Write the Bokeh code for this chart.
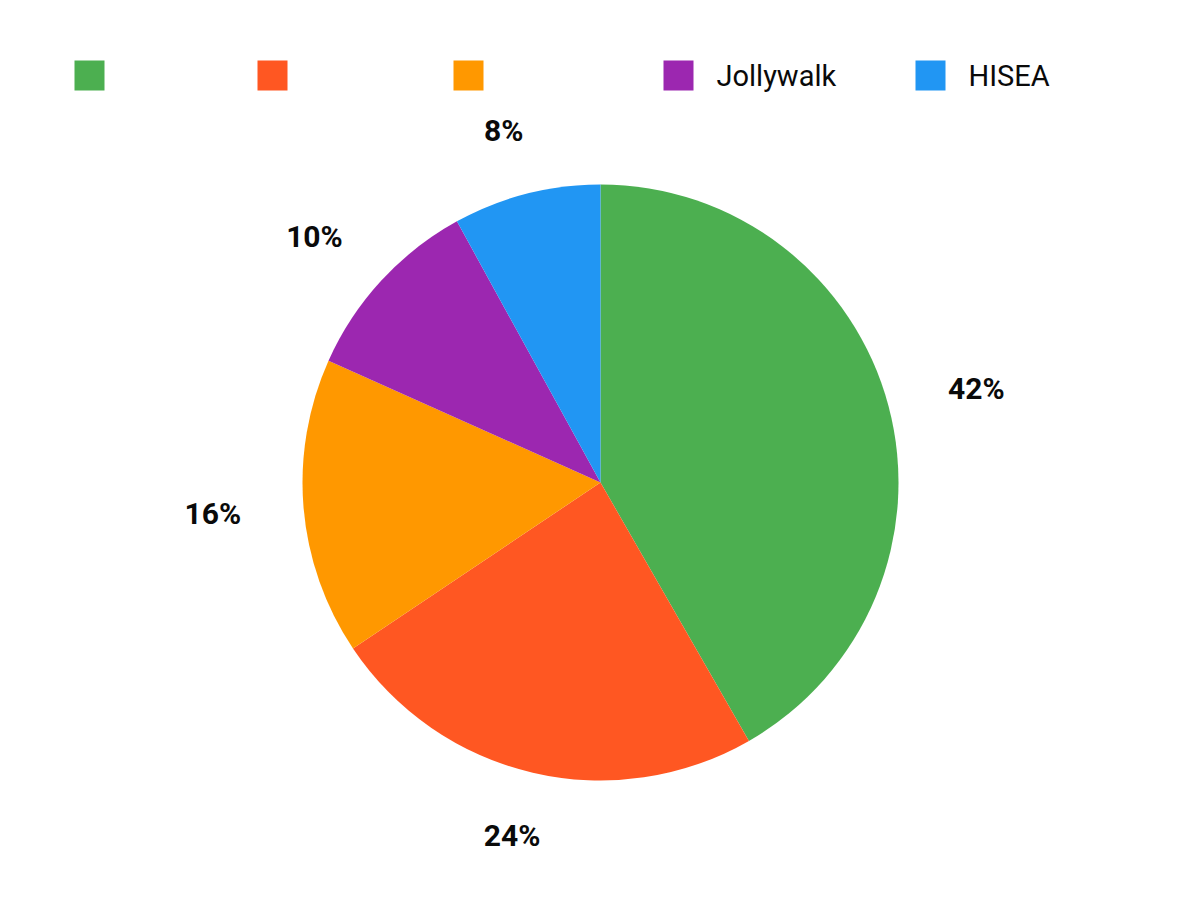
from bokeh.plotting import figure
from bokeh.models import Range1d, ColumnDataSource
from bokeh.embed import file_html
from bokeh.resources import INLINE
from bokeh.core.properties import value
import math

labels = ["", "", "", "Jollywalk", "HISEA"]
shares = [41.7, 23.9, 16.1, 10.3, 8.0]
colors = ["#4CAF50", "#FF5722", "#FF9800", "#9C27B0", "#2196F3"]
pct_labels = ["42%", "24%", "16%", "10%", "8%"]

W, H = 1184, 884
p = figure(width=W, height=H, output_backend="svg", toolbar_location=None,
           x_range=Range1d(0, W), y_range=Range1d(900 - H, 900),
           min_border=0, outline_line_color=None)
p.axis.visible = False
p.grid.visible = False
p.background_fill_color = "white"
p.border_fill_color = "white"

cx, cy, R = 600, 418, 298
total = sum(shares)
starts, ends, lx, ly = [], [], [], []
cum = 0.0
for s in shares:
    f0 = cum / total
    f1 = (cum + s) / total
    cum += s
    starts.append(math.pi / 2 - 2 * math.pi * f1)
    ends.append(math.pi / 2 - 2 * math.pi * f0)
    mid = 2 * math.pi * (f0 + f1) / 2
    r0 = 360
    lx.append(cx + r0 * math.sin(mid) + 29 * math.sin(mid))
    ly.append(cy + r0 * math.cos(mid) + 3 * math.cos(mid))

src = ColumnDataSource(dict(start=starts, end=ends, color=colors))
p.wedge(x=cx, y=cy, radius=R, start_angle="start", end_angle="end",
        fill_color="color", line_color=None, direction="anticlock", source=src)

p.text(x=lx, y=ly, text=pct_labels, text_align="center", text_baseline="middle",
       text_font=value("Roboto"), text_font_style="bold", text_font_size="30px",
       text_color="#0a0a0a")

# legend
leg_x = [74, 257, 453, 663, 915]
leg_y = 900 - 75
p.rect(x=[x + 15 for x in leg_x], y=[leg_y] * 5, width=30, height=30,
       fill_color=colors, line_color=None)
p.text(x=[x + 53 for x in leg_x], y=[leg_y] * 5, text=labels, text_align="left",
       text_baseline="middle", text_font=value("Roboto"), text_font_size="29px",
       text_color="#0a0a0a")

open("out.html", "w").write(file_html(p, INLINE))
